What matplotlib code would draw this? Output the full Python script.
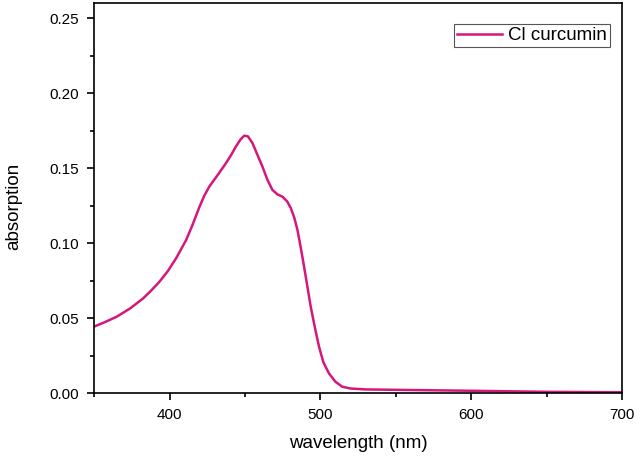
import matplotlib
matplotlib.use("Agg")
import matplotlib.pyplot as plt
from matplotlib.ticker import MultipleLocator

plt.rcParams['font.family'] = ['Liberation Sans', 'DejaVu Sans']

wavelength = [350, 357, 365, 374, 382.6, 388, 393.4, 399, 404.4, 411, 415, 419.8, 423,
              426.4, 432, 437.4, 441, 444, 447, 449.5, 452, 455, 458, 461.6, 465,
              468.2, 471.5, 474.8, 478, 480.4, 482.7, 484.8, 487, 489.2, 491.4, 493.6,
              496.4, 499.1, 502, 505.7, 510, 514.5, 520, 530, 560, 600, 650, 700]
absorption = [0.0443, 0.0472, 0.0509, 0.0565, 0.0632, 0.0685, 0.0743, 0.0815, 0.0899, 0.102,
              0.1115, 0.124, 0.1315, 0.1377, 0.1455, 0.1533, 0.1590, 0.1644, 0.1690, 0.1716,
              0.1712, 0.1667, 0.1595, 0.151, 0.142, 0.1355, 0.1325, 0.131, 0.1278, 0.1233,
              0.1170, 0.1088, 0.0970, 0.0843, 0.0710, 0.0576, 0.0435, 0.0309, 0.0205,
              0.0131, 0.0075, 0.0042, 0.0030, 0.0024, 0.0020, 0.0015, 0.0008, 0.0005]

fig = plt.figure(figsize=(6.4, 4.57), dpi=100)
ax = fig.add_axes([0.147, 0.140, 0.825, 0.853])
ax.plot(wavelength, absorption, color='#d4177a', lw=1.8, label='Cl curcumin')

ax.set_xlim(350, 700)
ax.set_ylim(0, 0.26)
ax.xaxis.set_major_locator(MultipleLocator(100))
ax.xaxis.set_minor_locator(MultipleLocator(50))
ax.yaxis.set_major_locator(MultipleLocator(0.05))
ax.yaxis.set_minor_locator(MultipleLocator(0.025))
ax.yaxis.set_major_formatter(matplotlib.ticker.FormatStrFormatter('%.2f'))
ax.tick_params(which='major', direction='out', length=5, width=1.2, labelsize=11, pad=6)
ax.tick_params(which='minor', direction='out', length=3, width=1.2)
ax.tick_params(top=False, right=False, which='both')
for s in ax.spines.values():
    s.set_linewidth(1.2)

ax.set_xlabel('wavelength (nm)', fontsize=13.5)
ax.set_ylabel('absorption', fontsize=13.5)
ax.xaxis.set_label_coords(0.5, -0.108)
ax.yaxis.set_label_coords(-0.136, 0.48)

leg = ax.legend(loc='upper right', bbox_to_anchor=(0.977, 0.946), borderaxespad=0,
                fontsize=13.5, fancybox=False, framealpha=1, edgecolor='#555555',
                handlelength=2.4, borderpad=0.15, handletextpad=0.35)
leg.get_frame().set_linewidth(0.8)

fig.savefig('out.png', dpi=100)
